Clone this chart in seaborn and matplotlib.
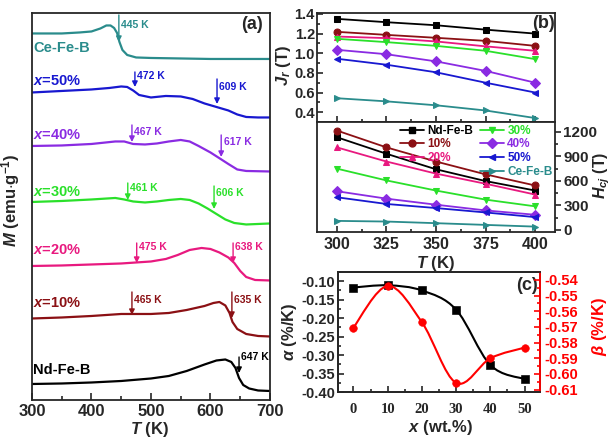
import numpy as np
import pandas as pd
import matplotlib
matplotlib.use('Agg')
import matplotlib.pyplot as plt
from matplotlib.path import Path
from matplotlib.patches import PathPatch
from matplotlib.lines import Line2D
from matplotlib.ticker import MultipleLocator, FormatStrFormatter
import seaborn as sns

# ---------------- data: panel (a) M-T curves (arbitrary units) ----------------
T_ce = [300, 350, 380, 400, 415, 425, 432, 438, 443, 447, 452, 460, 475, 500, 550, 600, 650, 700]
M_ce = [366.5, 366.5, 367.5, 368.5, 371.5, 374.5, 374.5, 372, 367, 358, 350, 345, 342.5, 342, 341.5, 341, 341, 341]

T_50 = [300, 350, 400, 430, 450, 460, 470, 480, 500, 525, 550, 570, 590, 610, 630, 645, 660, 680, 700]
M_50 = [307.5, 309, 310.5, 312, 313.5, 313, 309.5, 305, 302.5, 304, 303.5, 301, 296.5, 293, 289.5, 285.5, 283, 282.5, 282.5]

T_40 = [300, 350, 400, 440, 455, 470, 490, 510, 530, 550, 565, 580, 600, 617, 630, 645, 660, 700]
M_40 = [254, 254.5, 256, 258.5, 258.5, 256, 255.5, 256.5, 258.5, 260, 258.5, 254, 247.5, 241, 236, 230.5, 229, 228.5]

T_30 = [300, 350, 400, 440, 455, 470, 490, 510, 530, 550, 565, 580, 595, 610, 625, 640, 660, 680, 700]
M_30 = [198, 199, 200.5, 202, 200.5, 198.5, 197.5, 198.5, 200, 201, 200, 196.5, 191.5, 186, 180.5, 177, 175.5, 176, 176.5]

T_20 = [300, 350, 400, 450, 500, 525, 545, 565, 585, 600, 615, 630, 640, 650, 660, 675, 700]
M_20 = [134, 134.5, 135.5, 136.5, 138.5, 141, 145, 150, 152, 151, 147.5, 142.5, 137, 129, 123, 120, 119.5]

T_10 = [300, 350, 400, 450, 470, 500, 530, 560, 590, 605, 615, 625, 632, 637, 645, 660, 680, 700]
M_10 = [81.5, 82.5, 84, 86, 86, 86, 87, 90, 94, 97, 98, 94.5, 87, 78, 71, 66, 64, 63.5]

T_nd = [300, 350, 400, 450, 500, 530, 560, 590, 610, 625, 635, 642, 648, 655, 665, 680, 700]
M_nd = [16, 16.5, 17.5, 19, 21.5, 24, 29, 35.5, 39.5, 40.5, 38, 32, 22, 15, 11.5, 9.5, 9]

# transition temperatures marked with arrows (label, T, M top, M tip, M text)
arrows_a = [
    ('445 K', 446, 385, 358, 375, 'ce'),
    ('472 K', 473, 328, 313, 324, '50'),
    ('609 K', 611, 321, 296, 313, '50'),
    ('467 K', 468, 275, 258, 268, '40'),
    ('617 K', 618, 265, 243, 258, '40'),
    ('461 K', 461, 217, 200, 212, '30'),
    ('606 K', 606, 214, 191, 207, '30'),
    ('475 K', 476, 157, 137, 153, '20'),
    ('638 K', 638, 157, 137, 153, '20'),
    ('465 K', 468, 108, 85, 100, '10'),
    ('635 K', 636, 108, 82, 100, '10'),
    ('647 K', 648, 43, 27, 43, 'nd'),
]

# ---------------- data: panel (b) ----------------
T_b = [300, 325, 350, 375, 400]
jr = {
    'nd': [1.35, 1.316, 1.285, 1.24, 1.20],
    '10': [1.218, 1.187, 1.157, 1.126, 1.075],
    '20': [1.17, 1.154, 1.12, 1.07, 1.025],
    '30': [1.147, 1.113, 1.075, 1.025, 0.94],
    '40': [1.035, 0.99, 0.917, 0.82, 0.70],
    '50': [0.944, 0.883, 0.806, 0.70, 0.60],
    'ce': [0.542, 0.51, 0.47, 0.417, 0.34],
}
hcj = {
    'nd': [1134, 932, 742, 598, 482],
    '10': [1216, 1010, 837, 680, 544],
    '20': [1010, 837, 689, 565, 433],
    '30': [750, 606, 482, 371, 289],
    '40': [474, 383, 309, 239, 186],
    '50': [400, 318, 268, 214, 157],
    'ce': [111, 103, 83, 62, 41],
}

# ---------------- data: panel (c) ----------------
x_c = [0, 10, 20, 30, 40, 50]
alpha_c = [-0.117, -0.111, -0.125, -0.177, -0.327, -0.365]
beta_c = [-0.5704, -0.5439, -0.567, -0.6057, -0.590, -0.5832]

keys = ['nd', '10', '20', '30', '40', '50', 'ce']
colors = {'nd': 'black', '10': '#8b1014', '20': '#e8197f', '30': '#2ae02a',
          '40': '#8a2be2', '50': '#1818d0', 'ce': '#2a8c8c'}
names = {'nd': 'Nd-Fe-B', '10': '10%', '20': '20%', '30': '30%',
         '40': '40%', '50': '50%', 'ce': 'Ce-Fe-B'}
markers = {'nd': 's', '10': 'o', '20': '^', '30': 'v', '40': 'D', '50': '<', 'ce': '>'}

sns.set_style('ticks')
plt.rcParams['font.family'] = ['Liberation Sans', 'DejaVu Sans']
plt.rcParams['font.weight'] = 'bold'
plt.rcParams['axes.labelweight'] = 'bold'
plt.rcParams['mathtext.fontset'] = 'custom'
plt.rcParams['mathtext.rm'] = 'Liberation Sans:bold'
plt.rcParams['mathtext.it'] = 'Liberation Sans:italic:bold'
plt.rcParams['mathtext.bf'] = 'Liberation Sans:bold'
plt.rcParams['axes.unicode_minus'] = False
plt.rcParams['axes.linewidth'] = 1.3

fig = plt.figure(figsize=(6.14, 4.41), dpi=100)

# ======================= panel (a) =======================
axa = fig.add_axes([0.0521, 0.0930, 0.3876, 0.8776])
curves = {'ce': (T_ce, M_ce), '50': (T_50, M_50), '40': (T_40, M_40), '30': (T_30, M_30),
          '20': (T_20, M_20), '10': (T_10, M_10), 'nd': (T_nd, M_nd)}
for k, (tt, mm) in curves.items():
    sns.lineplot(x=tt, y=mm, ax=axa, color=colors[k], linewidth=1.6)

labels_a = [('ce', 'Ce-Fe-B', 352), ('50', r'$x$=50%', 319), ('40', r'$x$=40%', 265),
            ('30', r'$x$=30%', 208), ('20', r'$x$=20%', 150), ('10', r'$x$=10%', 97),
            ('nd', 'Nd-Fe-B', 30)]
for k, txt, yy in labels_a:
    axa.text(302, yy, txt, color=colors[k], fontsize=10.5, fontweight='bold',
             ha='left', va='center')

for txt, tx, ytop, ytip, ytxt, k in arrows_a:
    axa.annotate('', xy=(tx, ytip), xytext=(tx, ytop),
                 arrowprops=dict(arrowstyle='-|>', color=colors[k], lw=1.0,
                                 mutation_scale=8, shrinkA=0, shrinkB=0))
    axa.text(tx + 4, ytxt, txt, color=colors[k], fontsize=7.5, fontweight='bold',
             ha='left', va='center', clip_on=False)

axa.set_xlim(300, 700)
axa.set_ylim(0, 387)
axa.set_yticks([])
axa.xaxis.set_major_locator(MultipleLocator(100))
axa.xaxis.set_minor_locator(MultipleLocator(50))
axa.tick_params(axis='x', which='both', direction='in', labelsize=12, width=1.2, pad=3)
axa.tick_params(axis='x', which='major', length=5)
axa.tick_params(axis='x', which='minor', length=3)
axa.set_xlabel(r'$T$ (K)', fontsize=12)
axa.xaxis.set_label_coords(0.496, -0.053)
axa.set_ylabel(r'$M$ (emu$\cdot$g$^{-1}$)', fontsize=12)
axa.yaxis.set_label_coords(-0.042, 0.517)
axa.text(0.924, 0.969, '(a)', transform=axa.transAxes, fontsize=13,
         fontweight='bold', ha='center', va='center')

# ======================= panel (b) =======================
axb1 = fig.add_axes([0.5163, 0.7234, 0.3876, 0.2472])
axb2 = fig.add_axes([0.5163, 0.4739, 0.3876, 0.2494], sharex=axb1)
handles = []
for k in keys:
    sns.lineplot(x=T_b, y=jr[k], ax=axb1, color=colors[k], marker=markers[k],
                 markersize=5, markeredgecolor=colors[k], linewidth=1.3)
    sns.lineplot(x=T_b, y=hcj[k], ax=axb2, color=colors[k], marker=markers[k],
                 markersize=5, markeredgecolor=colors[k], linewidth=1.3)
    handles.append(Line2D([], [], color=colors[k], marker=markers[k], markersize=5,
                          linewidth=1.3, label=names[k]))

axb1.set_xlim(290, 410)
axb1.set_ylim(0.3, 1.41)
axb1.yaxis.set_major_locator(MultipleLocator(0.2))
axb1.yaxis.set_minor_locator(MultipleLocator(0.1))
axb1.yaxis.set_major_formatter(FormatStrFormatter('%.1f'))
axb1.xaxis.set_major_locator(MultipleLocator(25))
axb1.xaxis.set_minor_locator(MultipleLocator(12.5))
axb1.tick_params(axis='x', which='both', direction='in', labelbottom=False, width=1.2)
axb1.tick_params(axis='y', which='both', direction='in', labelsize=10.5, width=1.2, pad=1.5)
axb1.tick_params(which='major', length=4)
axb1.tick_params(which='minor', length=2.5)
axb1.set_ylabel(r'$J_r$ (T)', fontsize=12)
axb1.yaxis.set_label_coords(-0.1, 0.52)
axb1.text(0.95, 0.9, '(b)', transform=axb1.transAxes, fontsize=13,
          fontweight='bold', ha='center', va='center')

axb2.set_ylim(-25, 1320)
axb2.yaxis.set_major_locator(MultipleLocator(300))
axb2.yaxis.set_minor_locator(MultipleLocator(150))
axb2.yaxis.tick_right()
axb2.yaxis.set_label_position('right')
axb2.tick_params(axis='y', which='both', direction='out', labelsize=11, width=1.2, pad=2)
axb2.tick_params(axis='x', which='both', direction='in', labelsize=11.5, width=1.2)
axb2.tick_params(which='major', length=4)
axb2.tick_params(which='minor', length=2.5)
axb2.set_ylabel(r'$H_{cj}$ (T)', fontsize=11.5)
axb2.yaxis.set_label_coords(1.155, 0.52)
axb2.set_xlabel(r'$T$ (K)', fontsize=12)
axb2.xaxis.set_label_coords(0.5, -0.2)

order = ['nd', '10', '20', None, '30', '40', '50', 'ce']
hh = []
for k in order:
    if k is None:
        hh.append(Line2D([], [], color='none', label=' '))
    else:
        hh.append(handles[keys.index(k)])
leg = axb2.legend(handles=hh, ncol=2, loc='upper right', bbox_to_anchor=(1.02, 1.04),
                  frameon=False, fontsize=8.5, handlelength=2.0, handletextpad=0.3,
                  columnspacing=0.6, labelspacing=0.15, borderaxespad=0.2)
for t, k in zip(leg.get_texts(), order):
    if k is not None:
        t.set_color(colors[k])
        t.set_fontweight('bold')
if axb1.get_legend() is not None:
    axb1.get_legend().remove()


# ======================= panel (c) =======================
def smooth_path(xs, ys):
    pts = np.column_stack([xs, ys]).astype(float)
    n = len(pts)
    verts = [pts[0]]
    codes = [Path.MOVETO]
    for i in range(n - 1):
        p0 = pts[i - 1] if i > 0 else pts[i]
        p1 = pts[i]
        p2 = pts[i + 1]
        p3 = pts[i + 2] if i + 2 < n else pts[i + 1]
        verts += [p1 + (p2 - p0) / 6, p2 - (p3 - p1) / 6, p2]
        codes += [Path.CURVE4] * 3
    return Path(verts, codes)


axc = fig.add_axes([0.5505, 0.1111, 0.329, 0.2721])
axc2 = axc.twinx()
axc.add_patch(PathPatch(smooth_path(x_c, alpha_c), facecolor='none', edgecolor='black', lw=1.5))
sns.scatterplot(x=x_c, y=alpha_c, ax=axc, color='black', marker='s', s=30,
                edgecolor='black', zorder=3)
axc2.add_patch(PathPatch(smooth_path(x_c, beta_c), facecolor='none', edgecolor='red', lw=1.5))
sns.scatterplot(x=x_c, y=beta_c, ax=axc2, color='red', marker='o', s=30,
                edgecolor='red', zorder=3)

axc.set_xlim(-4.5, 54.5)
axc.set_ylim(-0.40, -0.075)
axc2.set_ylim(-0.6115, -0.535)
axc.xaxis.set_major_locator(MultipleLocator(10))
axc.xaxis.set_minor_locator(MultipleLocator(5))
axc.yaxis.set_major_locator(MultipleLocator(0.05))
axc.yaxis.set_minor_locator(MultipleLocator(0.025))
axc.yaxis.set_major_formatter(FormatStrFormatter('%.2f'))
axc2.yaxis.set_major_locator(MultipleLocator(0.01))
axc2.yaxis.set_minor_locator(MultipleLocator(0.005))
axc2.yaxis.set_major_formatter(FormatStrFormatter('%.2f'))
axc.tick_params(axis='both', which='both', direction='in', width=1.2)
axc.tick_params(axis='y', labelsize=10.5, pad=2)
axc.tick_params(axis='x', labelsize=10.5, pad=8)
axc.tick_params(which='major', length=4)
axc.tick_params(which='minor', length=2.5)
for lab in axc.get_xticklabels():
    lab.set_family(['Liberation Serif', 'DejaVu Serif'])
    lab.set_fontweight('bold')
axc2.tick_params(axis='y', which='both', direction='in', colors='red', labelsize=10.5, width=1.2)
axc2.tick_params(which='major', length=4)
axc2.tick_params(which='minor', length=2.5)
axc2.spines['right'].set_color('red')
axc.set_xlabel(r'$x$ (wt.%)', fontsize=12)
axc.xaxis.set_label_coords(0.505, -0.215)
axc.set_ylabel(r'$\alpha$ (%/K)', fontsize=12)
axc.yaxis.set_label_coords(-0.195, 0.5)
axc2.set_ylabel(r'$\beta$ (%/K)', fontsize=12, color='red')
axc2.yaxis.set_label_coords(1.245, 0.55)
axc.text(0.936, 0.89, '(c)', transform=axc.transAxes, fontsize=13,
         fontweight='bold', ha='center', va='center')

fig.savefig('out.png', dpi=100)
